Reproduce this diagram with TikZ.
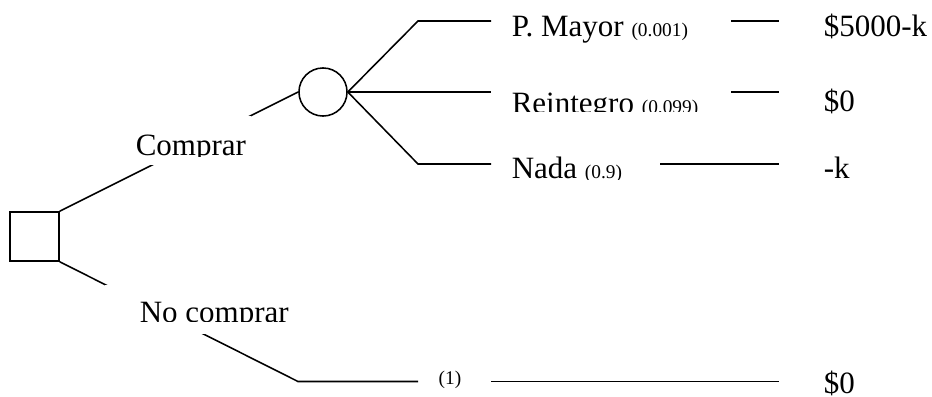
\documentclass[tikz,border=0pt]{standalone}
\usepackage{fontspec}
\setmainfont{Liberation Serif}
\newcommand{\prob}[1]{{\fontsize{7.5}{9}\selectfont #1}}

\begin{document}
\begin{tikzpicture}[x=0.387pt, y=-0.387pt, line width=0.6pt,
    decision/.style={draw, rectangle, minimum size=19pt, inner sep=0pt},
    chance/.style={draw, circle, minimum size=18.6pt, inner sep=0pt},
    lblbox/.style={fill=white, inner sep=0pt, minimum height=19pt},
    txt/.style={anchor=base west, inner sep=0pt, font=\fontsize{12}{14}\selectfont},
  ]
  \useasboundingbox (0,0) rectangle (932,396);

  \node[decision] (dec) at (34.5,236.5) {};
  \node[chance] (ch) at (323,92) {};

  \coordinate (k1) at (418,21);   \coordinate (e1) at (491,21);
  \coordinate (e2) at (491,92);
  \coordinate (k3) at (418,164);  \coordinate (e3) at (491,164);
  \coordinate (k4) at (298,381.5);\coordinate (e4) at (418,381.5);

  \draw (dec.north east) -- (ch.west);
  \draw (dec.south east) -- (k4) -- (e4);
  \draw (ch.east) -- (k1) -- (e1);
  \draw (ch.east) -- (e2);
  \draw (ch.east) -- (k3) -- (e3);

  \node[lblbox, minimum width=45.7pt] (comprarbox) at (192,140.5) {};
  \node[lblbox, minimum width=71.6pt] (nocomprarbox) at (197.5,309.5) {};
  \begin{scope}
    \clip (133,116) rectangle (251,156);
    \node[txt] (comprar) at (135,155) {Comprar};
  \end{scope}
  \begin{scope}
    \clip (105,285) rectangle (290,321);
    \node[txt] (nocomprar) at (139,322) {No comprar};
  \end{scope}

  \node[txt] (mayor) at (511,36) {P. Mayor \prob{(0.001)}};
  \begin{scope}
    \clip (500,80) rectangle (720,111.5);
    \node[txt] (reint) at (511,113) {Reintegro \prob{(0.099)}};
  \end{scope}
  \begin{scope}
    \clip (500,150) rectangle (650,179);
    \node[txt] (nada) at (511,178) {Nada \prob{(0.9)}};
  \end{scope}
  \node[inner sep=0pt, font=\fontsize{7.5}{9}\selectfont] (uno) at (450,380) {(1)};

  \coordinate (m1) at (731,21);   \coordinate (f1) at (779,21);
  \coordinate (m2) at (731,92);   \coordinate (f2) at (779,92);
  \coordinate (m3) at (660,164);  \coordinate (f3) at (779,164);
  \coordinate (m4) at (491,381.5);\coordinate (f4) at (779,381.5);
  \draw (m1) -- (f1);
  \draw (m2) -- (f2);
  \draw (m3) -- (f3);
  \draw (m4) -- (f4);

  \node[txt] (v1) at (823,36) {\$5000-k};
  \node[txt] (v2) at (823,111) {\$0};
  \node[txt] (v3) at (823,178) {-k};
  \node[txt] (v4) at (823,393) {\$0};
\end{tikzpicture}
\end{document}
